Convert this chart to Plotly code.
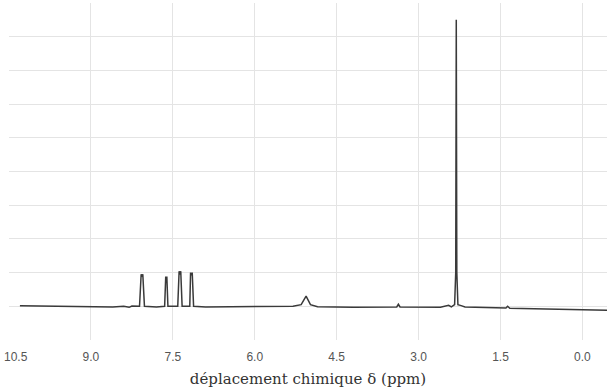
import plotly.graph_objects as go

# Chemical shift (ppm) and intensity
ppm = [10.30, 9.50, 8.60, 8.40, 8.30, 8.25, 8.11,
       8.08, 8.065, 8.05, 8.02, 7.80,
       7.65, 7.63, 7.62, 7.61, 7.59,
       7.41, 7.385, 7.37, 7.355, 7.33,
       7.19, 7.175, 7.16, 7.145, 7.12,
       6.90, 5.30, 5.15, 5.06, 4.98, 4.85, 4.20,
       3.40, 3.37, 3.34, 2.60, 2.45, 2.40,
       2.34, 2.32, 2.31, 2.30, 2.28, 2.22, 2.15,
       1.40, 1.37, 1.33, 0.00, -0.45]
intensity = [0.02, 0.00, -0.02, 0.00, -0.03, 0.01, 0.00,
             0.95, 0.88, 0.95, 0.00, -0.02,
             0.00, 0.88, 0.82, 0.88, 0.00,
             0.00, 1.04, 0.94, 1.04, 0.00,
             0.00, 1.00, 0.92, 1.00, 0.00,
             -0.02, 0.00, 0.05, 0.30, 0.05, -0.01, -0.03,
             -0.02, 0.06, -0.02, -0.03, 0.03, -0.02,
             0.05, 1.00, 8.50, 1.00, 0.05, 0.02, -0.02,
             -0.05, 0.00, -0.06, -0.10, -0.12]

tick_vals = [10.5, 9.0, 7.5, 6.0, 4.5, 3.0, 1.5, 0.0]
tick_text = ["10.5", "9.0", "7.5", "6.0", "4.5", "3.0", "1.5", "0.0"]

tick_font = dict(family="Liberation Sans", size=12, color="#555555")

fig = go.Figure()
fig.add_trace(go.Scatter(x=ppm, y=intensity, mode="lines",
                         line=dict(color="#3a3a3a", width=1.5),
                         hoverinfo="skip", showlegend=False))

# first tick label drawn as an annotation so it stays inside the page
fig.add_annotation(x=tick_vals[0], xref="x", y=0, yref="paper",
                   text=tick_text[0], showarrow=False,
                   xanchor="left", yanchor="top", xshift=-7, yshift=-8,
                   font=tick_font)

fig.update_layout(
    width=607, height=388,
    margin=dict(l=9, r=0, t=3, b=48),
    paper_bgcolor="white", plot_bgcolor="white",
    xaxis=dict(range=[10.5, -0.45], tickvals=tick_vals,
               ticktext=[""] + tick_text[1:],
               showgrid=True, gridcolor="#e4e4e4", gridwidth=1,
               zeroline=False, showline=False, ticks="", automargin=False,
               ticklabelstandoff=8,
               tickfont=tick_font,
               title=dict(text="déplacement chimique δ (ppm)",
                          font=dict(family="DejaVu Serif", size=15, color="#333333"),
                          standoff=10)),
    yaxis=dict(range=[-1, 9], dtick=1, showgrid=True, gridcolor="#e4e4e4",
               gridwidth=1, zeroline=False, showticklabels=False, ticks="",
               automargin=False),
)

fig.write_html("out.html")
